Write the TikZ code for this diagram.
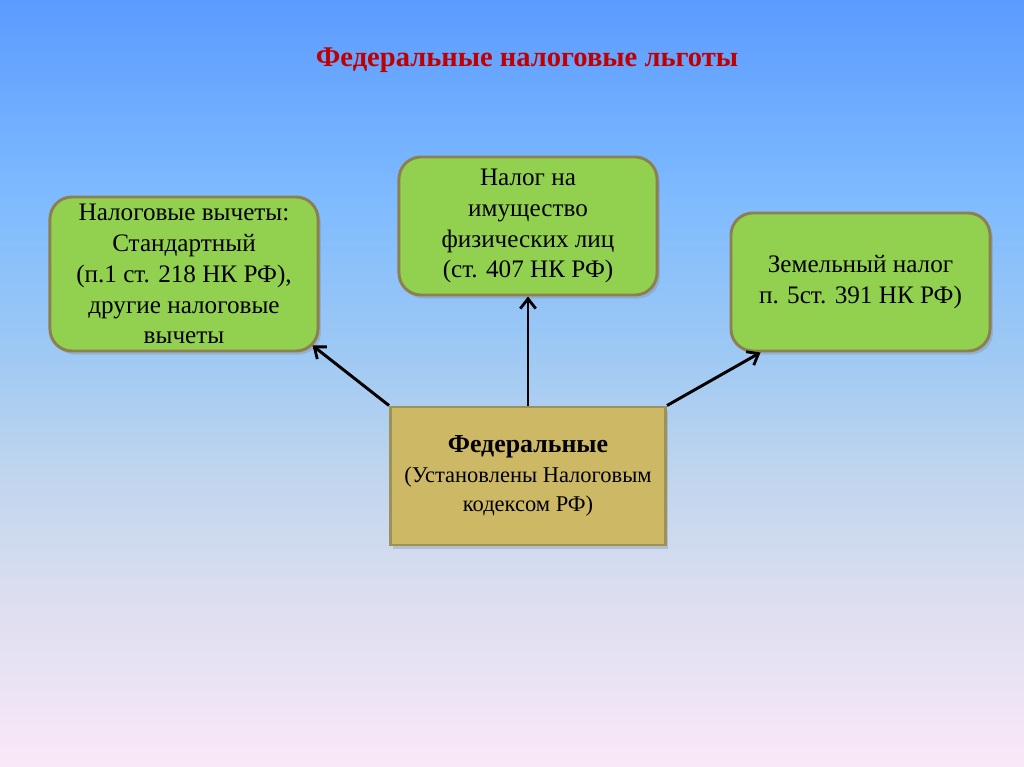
\documentclass[tikz,border=0pt]{standalone}
\usepackage{fontspec}
\setmainfont{Liberation Serif}
\usetikzlibrary{arrows.meta,shadows,calc}
\definecolor{bgtop}{HTML}{5B9BFF}
\definecolor{bgA}{HTML}{7FBBFF}
\definecolor{bgB}{HTML}{9CC8F4}
\definecolor{bgC}{HTML}{BCD4EE}
\definecolor{bgD}{HTML}{DCDEF0}
\definecolor{bgbot}{HTML}{FAE8F8}
\definecolor{boxgreen}{HTML}{92D050}
\definecolor{boxedge}{HTML}{8C8050}
\definecolor{boxgold}{HTML}{CDB865}
\definecolor{goldedge}{HTML}{9A9258}
\definecolor{titlered}{HTML}{C00000}
\pgfdeclareverticalshading{bgshade}{100bp}{color(0bp)=(bgbot); color(25bp)=(bgbot); color(36bp)=(bgD); color(45bp)=(bgC); color(52.5bp)=(bgB); color(62bp)=(bgA); color(75bp)=(bgtop); color(100bp)=(bgtop)}
\tikzset{
  greenbox/.style={draw=boxedge, line width=2.1pt, fill=boxgreen, rounded corners=0.55cm,
    align=center, inner sep=0pt, font=\fontsize{17.9}{22}\selectfont,
    drop shadow={shadow xshift=2pt, shadow yshift=-2.5pt, opacity=0.3}},
  goldbox/.style={draw=goldedge, line width=2.1pt, fill=boxgold,
    align=center, inner sep=0pt, font=\fontsize{16}{21}\selectfont,
    drop shadow={shadow xshift=2pt, shadow yshift=-2.5pt, opacity=0.3}},
  link/.style={draw=black, line width=2.1pt, -{Straight Barb[length=7pt,width=11pt,line width=2pt]}}
}
\begin{document}
\begin{tikzpicture}[x=0.025cm, y=-0.025cm]
\shade[shading=bgshade] (0,0) rectangle (1024,767);
\useasboundingbox (0,0) rectangle (1024,767);
\node[text=titlered, font=\fontsize{20.3}{24}\selectfont\bfseries] (title) at (527,60) {Федеральные налоговые льготы};
\node[greenbox, minimum width=6.7cm, minimum height=3.85cm] (lb) at (184,274)
  {Налоговые вычеты:\\Стандартный\\(п.1 ст. 218 НК РФ),\\другие налоговые\\вычеты};
\node[greenbox, minimum width=6.45cm, minimum height=3.45cm] (mb) at (528,226)
  {Налог на\\имущество\\физических лиц\\(ст. 407 НК РФ)};
\node[greenbox, minimum width=6.475cm, minimum height=3.45cm] (rb) at (860.5,282)
  {Земельный налог\\п. 5ст. 391 НК РФ)};
\node[goldbox, minimum width=6.875cm, minimum height=3.45cm] (fb) at (528,476)
  {{\fontsize{18.4}{21}\selectfont\bfseries Федеральные}\\(Установлены Налоговым\\кодексом РФ)};
\draw[link] (fb.north west) -- ($(lb.south east)+(-7,-7)$);
\draw[link] (fb.north) -- (mb.south);
\draw[link] (fb.north east) -- ($(rb.south west)+(31,0)$);
\end{tikzpicture}
\end{document}
